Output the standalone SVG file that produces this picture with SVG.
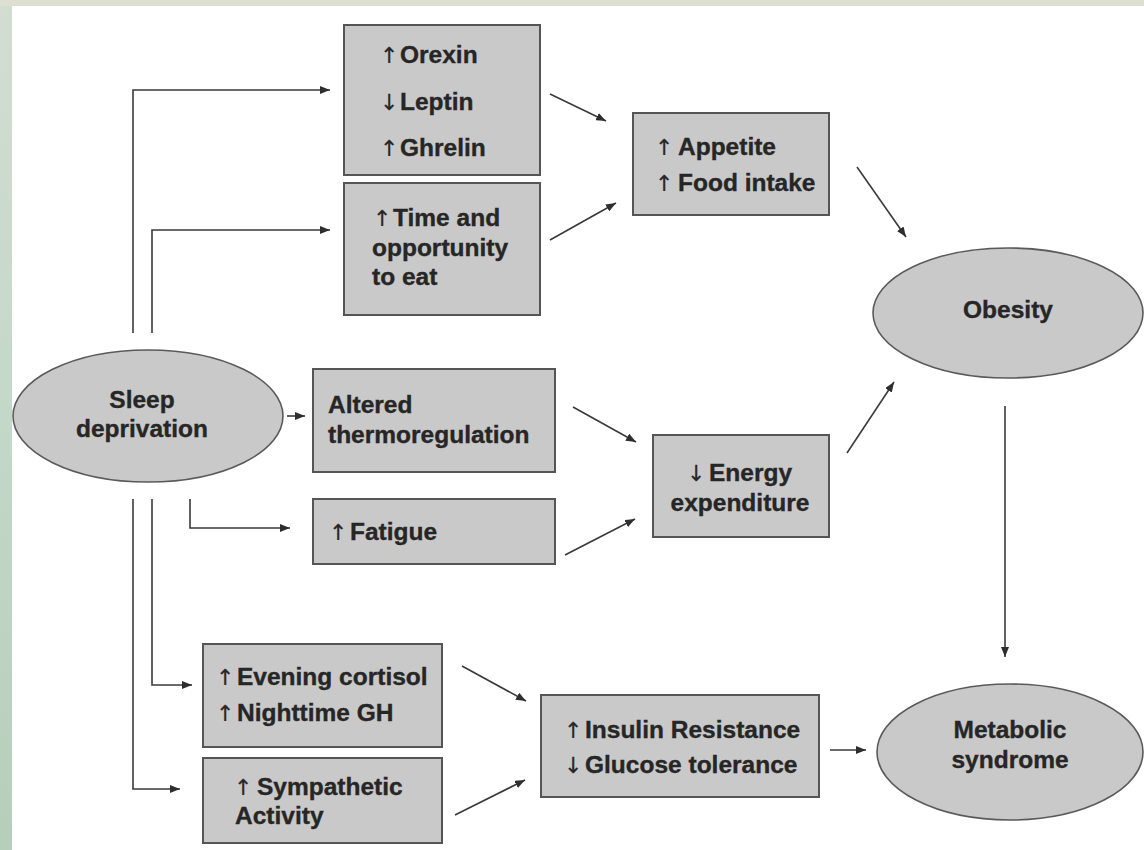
<svg xmlns="http://www.w3.org/2000/svg" width="1144" height="850" viewBox="0 0 1144 850">
<defs>
<linearGradient id="leftbg" x1="0" y1="0" x2="0" y2="1">
<stop offset="0" stop-color="#d3ddd2"/>
<stop offset="0.5" stop-color="#c2d8c8"/>
<stop offset="1" stop-color="#b5cfba"/>
</linearGradient>
<marker id="ah" viewBox="0 0 10 8" refX="10" refY="4" markerWidth="10" markerHeight="8" markerUnits="userSpaceOnUse" orient="auto">
<path d="M0,0 L10,4 L0,8 z" fill="#2e2e2e"/>
</marker>
<style>
.box{fill:#c9c9c9;stroke:#555;stroke-width:2}
.ell{fill:#c9c9c9;stroke:#5a5a5a;stroke-width:1.6}
.t{font-family:"Liberation Sans",Arial,sans-serif;font-weight:bold;font-size:24.5px;fill:#262626;stroke:#262626;stroke-width:0.35}
.c{text-anchor:middle}
.ar{font-weight:normal;font-family:"DejaVu Sans","Liberation Sans",sans-serif;font-size:22px;stroke-width:0.2}
.ln{fill:none;stroke:#3a3a3a;stroke-width:1.6}
.la{fill:none;stroke:#3a3a3a;stroke-width:1.6;marker-end:url(#ah)}
</style>
</defs>
<rect x="0" y="0" width="1144" height="850" fill="#ffffff"/>
<rect x="0" y="0" width="12" height="850" fill="url(#leftbg)"/>
<rect x="0" y="0" width="1144" height="6" fill="#dde0d1"/>

<g id="connectors">
<path class="la" d="M133,333 V90 H330"/>
<path class="la" d="M152,333 V230 H330"/>
<path class="la" d="M287,416 H305"/>
<path class="la" d="M190,499 V528 H290"/>
<path class="la" d="M152,499 V685 H192"/>
<path class="la" d="M133,499 V789 H180"/>
<path class="la" d="M550,94 L606,121"/>
<path class="la" d="M550,240 L616,203"/>
<path class="la" d="M857,167 L906,237"/>
<path class="la" d="M573,407 L636,442"/>
<path class="la" d="M565,555 L635,519"/>
<path class="la" d="M847,453 L894,382"/>
<path class="la" d="M1005,406 V657"/>
<path class="la" d="M462,666 L526,701"/>
<path class="la" d="M455,815 L525,780"/>
<path class="la" d="M830,750 H866"/>
</g>

<g id="sleep">
<ellipse class="ell" cx="148" cy="416" rx="135" ry="66"/>
<text class="t c" x="142" y="408">Sleep</text>
<text class="t c" x="142" y="437">deprivation</text>
</g>

<g id="hormones">
<rect class="box" x="344" y="25" width="196" height="150"/>
<text class="t"><tspan class="ar" x="380" y="63">↑</tspan><tspan x="400" y="63">Orexin</tspan></text>
<text class="t"><tspan class="ar" x="380" y="110">↓</tspan><tspan x="400" y="110">Leptin</tspan></text>
<text class="t"><tspan class="ar" x="380" y="156">↑</tspan><tspan x="400" y="156">Ghrelin</tspan></text>
</g>

<g id="time">
<rect class="box" x="344" y="183" width="196" height="132"/>
<text class="t"><tspan class="ar" x="373" y="226">↑</tspan><tspan x="393" y="226">Time and</tspan></text>
<text class="t" x="372" y="256">opportunity</text>
<text class="t" x="372" y="285">to eat</text>
</g>

<g id="appetite">
<rect class="box" x="633" y="113" width="196" height="102"/>
<text class="t"><tspan class="ar" x="655" y="155">↑</tspan><tspan x="678" y="155">Appetite</tspan></text>
<text class="t"><tspan class="ar" x="655" y="191">↑</tspan><tspan x="678" y="191">Food intake</tspan></text>
</g>

<g id="obesity">
<ellipse class="ell" cx="1008" cy="313" rx="135" ry="65"/>
<text class="t c" x="1008" y="318">Obesity</text>
</g>

<g id="thermo">
<rect class="box" x="313" y="369" width="242" height="103"/>
<text class="t" x="328" y="413">Altered</text>
<text class="t" x="328" y="443">thermoregulation</text>
</g>

<g id="fatigue">
<rect class="box" x="313" y="499" width="242" height="65"/>
<text class="t"><tspan class="ar" x="329" y="540">↑</tspan><tspan x="350" y="540">Fatigue</tspan></text>
</g>

<g id="energy">
<rect class="box" x="653" y="435" width="176" height="102"/>
<text class="t"><tspan class="ar" x="687" y="481">↓</tspan><tspan x="709" y="481">Energy</tspan></text>
<text class="t c" x="740" y="511">expenditure</text>
</g>

<g id="cortisol">
<rect class="box" x="203" y="644" width="239" height="103"/>
<text class="t"><tspan class="ar" x="216" y="685">↑</tspan><tspan x="237" y="685">Evening cortisol</tspan></text>
<text class="t"><tspan class="ar" x="216" y="721">↑</tspan><tspan x="237" y="721">Nighttime GH</tspan></text>
</g>

<g id="sympathetic">
<rect class="box" x="203" y="758" width="239" height="85"/>
<text class="t"><tspan class="ar" x="234" y="795">↑</tspan><tspan x="257" y="795">Sympathetic</tspan></text>
<text class="t" x="235" y="824">Activity</text>
</g>

<g id="insulin">
<rect class="box" x="541" y="695" width="278" height="102"/>
<text class="t"><tspan class="ar" x="564" y="738">↑</tspan><tspan x="585" y="738">Insulin Resistance</tspan></text>
<text class="t"><tspan class="ar" x="564" y="773">↓</tspan><tspan x="585" y="773">Glucose tolerance</tspan></text>
</g>

<g id="metabolic">
<ellipse class="ell" cx="1010" cy="752" rx="133" ry="68"/>
<text class="t c" x="1010" y="738">Metabolic</text>
<text class="t c" x="1010" y="768">syndrome</text>
</g>
</svg>
